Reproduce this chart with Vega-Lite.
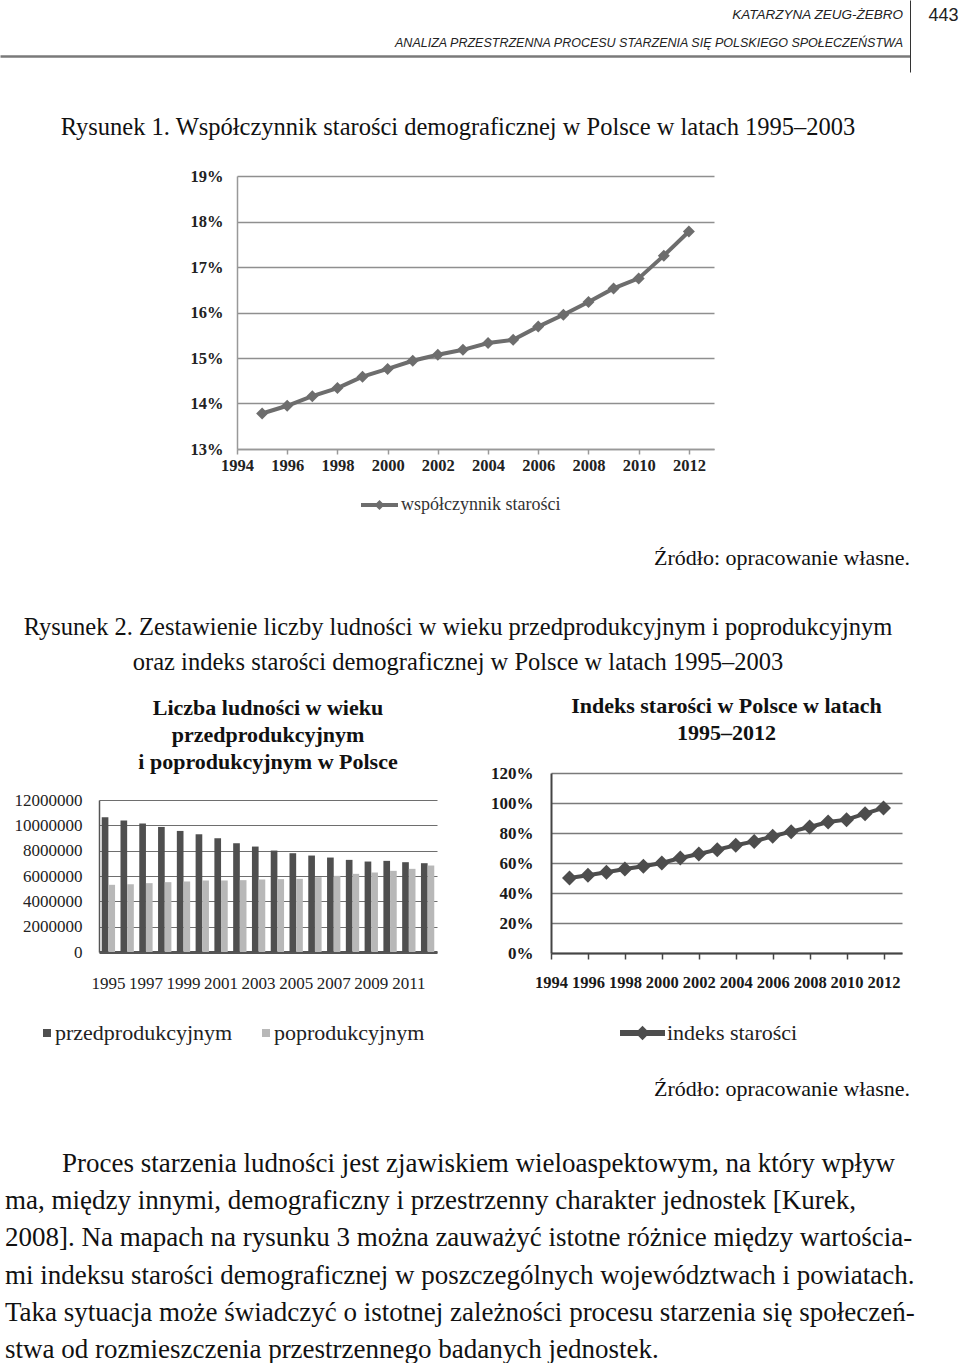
{
  "$schema": "https://vega.github.io/schema/vega-lite/v6.json",
  "padding": 0,
  "background": "white",
  "config": {
    "view": {"stroke": null},
    "font": "Liberation Serif",
    "axis": {"labelFont": "Liberation Serif", "labelColor": "#1a1a1a", "titleFont": "Liberation Serif"},
    "legend": {"labelFont": "Liberation Serif", "labelColor": "#222", "labelLimit": 400},
    "title": {"font": "Liberation Serif", "color": "#111"}
  },
  "spacing": 0,
  "bounds": "flush",
  "resolve": {"scale": {"color": "independent"}, "legend": {"color": "independent"}},
  "vconcat": [
    {
      "width": 910,
      "height": 72,
      "data": {"values": [
        {"i": "a", "t": "KATARZYNA ZEUG-ŻEBRO"},
        {"i": "b", "t": "ANALIZA PRZESTRZENNA PROCESU STARZENIA SIĘ POLSKIEGO SPOŁECZEŃSTWA"}
      ]},
      "encoding": {
        "x": {"datum": 1, "type": "quantitative", "scale": {"domain": [0, 1]},
          "axis": {"orient": "bottom", "offset": -16, "labels": false, "ticks": false, "tickSize": 0, "grid": false, "domain": true, "domainColor": "#7a7a7a", "domainWidth": 2.5, "title": null}},
        "y": {"field": "i", "type": "ordinal", "scale": {"type": "point", "domain": ["a", "b"], "padding": 0.7857, "align": 0.341},
          "axis": {"orient": "right", "labels": false, "ticks": false, "tickSize": 0, "grid": false, "domain": true, "domainColor": "#333", "domainWidth": 1,
            "title": "443", "titleAngle": 0, "titleAnchor": "start", "titleAlign": "left", "titleBaseline": "top", "titlePadding": 18, "titleY": 6,
            "titleFont": "Liberation Sans", "titleFontSize": 18, "titleFontWeight": "normal", "titleColor": "#222"}},
        "text": {"field": "t"}
      },
      "layer": [
        {"transform": [{"filter": "datum.i === 'a'"}],
         "mark": {"type": "text", "align": "right", "dx": -7, "font": "Liberation Sans", "fontSize": 13.5, "fontStyle": "italic", "color": "#222"}},
        {"transform": [{"filter": "datum.i === 'b'"}],
         "mark": {"type": "text", "align": "right", "dx": -7, "font": "Liberation Sans", "fontSize": 12.5, "fontStyle": "italic", "color": "#222"}}
      ]
    },
    {
      "width": 916,
      "height": 104,
      "data": {"values": [{"i": 0, "t": "Rysunek 1. Współczynnik starości demograficznej w Polsce w latach 1995–2003"}]},
      "mark": {"type": "text", "font": "Liberation Serif", "fontSize": 24.5, "color": "#111"},
      "encoding": {
        "y": {"field": "i", "type": "ordinal", "scale": {"type": "point", "align": 0.538}, "axis": null},
        "text": {"field": "t"}
      }
    },
    {
      "hconcat": [
        {"width": 237, "height": 1, "data": {"values": []}, "mark": "point"},
        {
          "width": 477,
          "height": 273,
          "data": {"values": [
            {"year": 1995, "value": 0.1378}, {"year": 1996, "value": 0.1395}, {"year": 1997, "value": 0.1416},
            {"year": 1998, "value": 0.1434}, {"year": 1999, "value": 0.1459}, {"year": 2000, "value": 0.1476},
            {"year": 2001, "value": 0.1494}, {"year": 2002, "value": 0.1507}, {"year": 2003, "value": 0.1518},
            {"year": 2004, "value": 0.1533}, {"year": 2005, "value": 0.1540}, {"year": 2006, "value": 0.1569},
            {"year": 2007, "value": 0.1595}, {"year": 2008, "value": 0.1623}, {"year": 2009, "value": 0.1653},
            {"year": 2010, "value": 0.1675}, {"year": 2011, "value": 0.1725}, {"year": 2012, "value": 0.1778}
          ]},
          "encoding": {
            "x": {"field": "year", "type": "quantitative", "scale": {"domain": [1994, 2013], "nice": false},
              "axis": {"values": [1994, 1996, 1998, 2000, 2002, 2004, 2006, 2008, 2010, 2012], "format": "d", "labelFlush": false, "labelOverlap": false,
                "labelFontWeight": "bold", "labelFontSize": 16.5, "labelColor": "#222", "ticks": true, "tickSize": 5, "tickColor": "#999", "tickWidth": 1.5,
                "domainColor": "#999", "domainWidth": 1.5, "grid": false, "labelPadding": 3, "title": null}},
            "y": {"field": "value", "type": "quantitative", "scale": {"domain": [0.13, 0.19], "nice": false, "zero": false},
              "axis": {"values": [0.13, 0.14, 0.15, 0.16, 0.17, 0.18, 0.19], "format": ".0%",
                "grid": true, "gridColor": "#8f8f8f", "gridWidth": 1.5, "ticks": false, "tickSize": 0, "labelPadding": 14,
                "domain": true, "domainColor": "#999", "domainWidth": 1.5, "labelFontWeight": "bold", "labelFontSize": 16.5, "labelColor": "#222", "title": null}}
          },
          "layer": [
            {"mark": {"type": "line", "color": "#6d6d6d", "strokeWidth": 4}},
            {"mark": {"type": "point", "shape": "diamond", "filled": true, "size": 144, "opacity": 1},
             "encoding": {"color": {"datum": "współczynnik starości", "scale": {"range": ["#6d6d6d"]},
               "legend": {"orient": "none", "legendX": 361, "legendY": 310.5, "title": null,
                 "symbolType": "M-1,-0.11L1,-0.11L1,0.11L-1,0.11Z M0,-0.27L0.27,0L0,0.27L-0.27,0Z",
                 "symbolSize": 1369, "symbolStrokeWidth": 0, "labelFontSize": 18, "labelColor": "#333", "labelOffset": 3}}}}
          ]
        }
      ],
      "spacing": 0,
      "bounds": "flush"
    },
    {"width": 1, "height": 312, "data": {"values": []}, "mark": "point"},
    {
      "width": 916,
      "height": 175,
      "data": {"values": [
        {"i": 0, "k": "src", "t": "Źródło: opracowanie własne."},
        {"i": 2, "k": "cap", "t": "Rysunek 2. Zestawienie liczby ludności w wieku przedprodukcyjnym i poprodukcyjnym"},
        {"i": 3, "k": "cap", "t": "oraz indeks starości demograficznej w Polsce w latach 1995–2003"}
      ]},
      "encoding": {
        "y": {"field": "i", "type": "ordinal", "scale": {"type": "point", "domain": [0, 1, 2, 3], "padding": 1, "align": 1}, "axis": null},
        "text": {"field": "t"}
      },
      "layer": [
        {"transform": [{"filter": "datum.k === 'src'"}],
         "mark": {"type": "text", "align": "right", "dx": -6, "font": "Liberation Serif", "fontSize": 22, "color": "#111"},
         "encoding": {"x": {"datum": 1, "type": "quantitative", "scale": {"domain": [0, 1]}, "axis": null}}},
        {"transform": [{"filter": "datum.k === 'cap'"}],
         "mark": {"type": "text", "align": "center", "font": "Liberation Serif", "fontSize": 24.5, "color": "#111"}}
      ]
    },
    {
      "hconcat": [
        {"width": 99, "height": 1, "data": {"values": []}, "mark": "point"},
        {
          "vconcat": [
            {"width": 1, "height": 137, "data": {"values": []}, "mark": "point"},
            {
              "width": 338,
              "height": 152,
              "title": {"text": ["Liczba ludności w wieku", "przedprodukcyjnym", "i poprodukcyjnym w Polsce"],
                "fontSize": 22, "fontWeight": "bold", "lineHeight": 27, "offset": 17, "anchor": "middle", "color": "#111"},
              "data": {"values": [
                {"year": 1995, "series": "przedprodukcyjnym", "value": 10635000}, {"year": 1995, "series": "poprodukcyjnym", "value": 5304000},
                {"year": 1996, "series": "przedprodukcyjnym", "value": 10372000}, {"year": 1996, "series": "poprodukcyjnym", "value": 5357000},
                {"year": 1997, "series": "przedprodukcyjnym", "value": 10136000}, {"year": 1997, "series": "poprodukcyjnym", "value": 5435000},
                {"year": 1998, "series": "przedprodukcyjnym", "value": 9873000}, {"year": 1998, "series": "poprodukcyjnym", "value": 5514000},
                {"year": 1999, "series": "przedprodukcyjnym", "value": 9558000}, {"year": 1999, "series": "poprodukcyjnym", "value": 5567000},
                {"year": 2000, "series": "przedprodukcyjnym", "value": 9295000}, {"year": 2000, "series": "poprodukcyjnym", "value": 5646000},
                {"year": 2001, "series": "przedprodukcyjnym", "value": 8980000}, {"year": 2001, "series": "poprodukcyjnym", "value": 5646000},
                {"year": 2002, "series": "przedprodukcyjnym", "value": 8586000}, {"year": 2002, "series": "poprodukcyjnym", "value": 5672000},
                {"year": 2003, "series": "przedprodukcyjnym", "value": 8324000}, {"year": 2003, "series": "poprodukcyjnym", "value": 5724000},
                {"year": 2004, "series": "przedprodukcyjnym", "value": 8009000}, {"year": 2004, "series": "poprodukcyjnym", "value": 5751000},
                {"year": 2005, "series": "przedprodukcyjnym", "value": 7799000}, {"year": 2005, "series": "poprodukcyjnym", "value": 5777000},
                {"year": 2006, "series": "przedprodukcyjnym", "value": 7615000}, {"year": 2006, "series": "poprodukcyjnym", "value": 5908000},
                {"year": 2007, "series": "przedprodukcyjnym", "value": 7457000}, {"year": 2007, "series": "poprodukcyjnym", "value": 6013000},
                {"year": 2008, "series": "przedprodukcyjnym", "value": 7273000}, {"year": 2008, "series": "poprodukcyjnym", "value": 6171000},
                {"year": 2009, "series": "przedprodukcyjnym", "value": 7142000}, {"year": 2009, "series": "poprodukcyjnym", "value": 6276000},
                {"year": 2010, "series": "przedprodukcyjnym", "value": 7195000}, {"year": 2010, "series": "poprodukcyjnym", "value": 6407000},
                {"year": 2011, "series": "przedprodukcyjnym", "value": 7090000}, {"year": 2011, "series": "poprodukcyjnym", "value": 6565000},
                {"year": 2012, "series": "przedprodukcyjnym", "value": 7011000}, {"year": 2012, "series": "poprodukcyjnym", "value": 6827000}
              ]},
              "mark": {"type": "bar"},
              "encoding": {
                "x": {"field": "year", "type": "ordinal", "scale": {"paddingInner": 0.29, "paddingOuter": 0.145},
                  "axis": {"values": [1995, 1997, 1999, 2001, 2003, 2005, 2007, 2009, 2011], "labelAngle": 0, "ticks": false, "tickSize": 0, "labelOverlap": false,
                    "labelPadding": 23.5, "domain": true, "domainColor": "#555", "domainWidth": 3, "labelFontSize": 17, "labelColor": "#222", "title": null}},
                "xOffset": {"field": "series", "type": "nominal", "sort": ["przedprodukcyjnym", "poprodukcyjnym"]},
                "y": {"field": "value", "type": "quantitative", "scale": {"domain": [0, 12000000], "nice": false},
                  "axis": {"values": [0, 2000000, 4000000, 6000000, 8000000, 10000000, 12000000], "format": "d",
                    "grid": true, "gridColor": "#6e6e6e", "gridWidth": 1.2, "ticks": false, "tickSize": 0, "labelPadding": 17,
                    "domain": true, "domainColor": "#555", "domainWidth": 1.5, "labelFontSize": 17, "labelColor": "#222", "title": null}},
                "color": {"field": "series", "type": "nominal",
                  "scale": {"domain": ["przedprodukcyjnym", "poprodukcyjnym"], "range": ["#4f4f4f", "#b8b8b8"]},
                  "legend": {"orient": "none", "legendX": -63, "legendY": 359, "direction": "horizontal", "title": null,
                    "symbolType": "square", "symbolSize": 64, "symbolStrokeWidth": 0, "columnPadding": 22, "labelOffset": -3,
                    "labelFontSize": 22, "labelColor": "#222", "labelLimit": 400}}
              }
            }
          ],
          "spacing": 0,
          "bounds": "flush"
        },
        {"width": 452, "height": 1, "data": {"values": []}, "mark": "point"},
        {
          "vconcat": [
            {"width": 1, "height": 110, "data": {"values": []}, "mark": "point"},
            {
              "width": 351,
              "height": 180,
              "title": {"text": ["Indeks starości w Polsce w latach", "1995–2012"],
                "fontSize": 22, "fontWeight": "bold", "lineHeight": 27, "offset": 19, "anchor": "middle", "color": "#111"},
              "data": {"values": [
                {"year": 1995, "value": 0.500}, {"year": 1996, "value": 0.518}, {"year": 1997, "value": 0.538},
                {"year": 1998, "value": 0.560}, {"year": 1999, "value": 0.578}, {"year": 2000, "value": 0.600},
                {"year": 2001, "value": 0.633}, {"year": 2002, "value": 0.660}, {"year": 2003, "value": 0.689},
                {"year": 2004, "value": 0.718}, {"year": 2005, "value": 0.744}, {"year": 2006, "value": 0.778},
                {"year": 2007, "value": 0.809}, {"year": 2008, "value": 0.840}, {"year": 2009, "value": 0.873},
                {"year": 2010, "value": 0.889}, {"year": 2011, "value": 0.929}, {"year": 2012, "value": 0.967}
              ]},
              "encoding": {
                "x": {"field": "year", "type": "quantitative", "scale": {"domain": [1994, 2013], "nice": false},
                  "axis": {"values": [1994, 1996, 1998, 2000, 2002, 2004, 2006, 2008, 2010, 2012], "format": "d", "labelFlush": false, "labelOverlap": false,
                    "labelFontWeight": "bold", "labelFontSize": 16.5, "labelColor": "#1a1a1a", "ticks": true, "tickSize": 6, "tickColor": "#444", "tickWidth": 1.5,
                    "domainColor": "#444", "domainWidth": 2, "grid": false, "labelPadding": 15.5, "title": null}},
                "y": {"field": "value", "type": "quantitative", "scale": {"domain": [0, 1.2], "nice": false},
                  "axis": {"values": [0, 0.2, 0.4, 0.6, 0.8, 1, 1.2], "format": ".0%",
                    "grid": true, "gridColor": "#7a7a7a", "gridWidth": 1.5, "ticks": false, "tickSize": 0, "labelPadding": 18,
                    "domain": true, "domainColor": "#444", "domainWidth": 2, "labelFontWeight": "bold", "labelFontSize": 17, "labelColor": "#1a1a1a", "title": null}}
              },
              "layer": [
                {"mark": {"type": "line", "color": "#4d4d4d", "strokeWidth": 4}},
                {"mark": {"type": "point", "shape": "diamond", "filled": true, "size": 225, "opacity": 1},
                 "encoding": {"color": {"datum": "indeks starości", "scale": {"range": ["#4d4d4d"]},
                   "legend": {"orient": "none", "legendX": 69, "legendY": 347.5, "title": null,
                     "symbolType": "M-1,-0.13L1,-0.13L1,0.13L-1,0.13Z M0,-0.32L0.32,0L0,0.32L-0.32,0Z",
                     "symbolSize": 2025, "symbolStrokeWidth": 0, "labelFontSize": 22, "labelColor": "#222", "labelOffset": 2}}}}
              ]
            }
          ],
          "spacing": 0,
          "bounds": "flush"
        }
      ],
      "spacing": 0,
      "bounds": "flush",
      "resolve": {"scale": {"color": "independent"}, "legend": {"color": "independent"}}
    },
    {"width": 1, "height": 352, "data": {"values": []}, "mark": "point"},
    {
      "width": 916,
      "height": 335,
      "data": {"values": [
        {"i": 0, "k": "src", "t": "Źródło: opracowanie własne."},
        {"i": 2, "k": "p1", "t": "Proces starzenia ludności jest zjawiskiem wieloaspektowym, na który wpływ"},
        {"i": 3, "k": "p", "t": "ma, między innymi, demograficzny i przestrzenny charakter jednostek [Kurek,"},
        {"i": 4, "k": "p", "t": "2008]. Na mapach na rysunku 3 można zauważyć istotne różnice między wartościa-"},
        {"i": 5, "k": "p", "t": "mi indeksu starości demograficznej w poszczególnych województwach i powiatach."},
        {"i": 6, "k": "p", "t": "Taka sytuacja może świadczyć o istotnej zależności procesu starzenia się społeczeń-"},
        {"i": 7, "k": "p", "t": "stwa od rozmieszczenia przestrzennego badanych jednostek."}
      ]},
      "encoding": {
        "y": {"field": "i", "type": "ordinal", "scale": {"type": "point", "domain": [0, 1, 2, 3, 4, 5, 6, 7], "padding": 1, "align": 1}, "axis": null},
        "x": {"datum": 1, "type": "quantitative", "scale": {"domain": [0, 1]}, "axis": null},
        "text": {"field": "t"}
      },
      "layer": [
        {"transform": [{"filter": "datum.k === 'src'"}],
         "mark": {"type": "text", "align": "right", "dx": -6, "font": "Liberation Serif", "fontSize": 22, "color": "#111"}},
        {"transform": [{"filter": "datum.k === 'p1'"}],
         "mark": {"type": "text", "align": "left", "dx": 62, "font": "Liberation Serif", "fontSize": 27, "color": "#111"},
         "encoding": {"x": {"datum": 0, "type": "quantitative", "scale": {"domain": [0, 1]}, "axis": null}}},
        {"transform": [{"filter": "datum.k === 'p'"}],
         "mark": {"type": "text", "align": "left", "dx": 5, "font": "Liberation Serif", "fontSize": 27, "color": "#111"},
         "encoding": {"x": {"datum": 0, "type": "quantitative", "scale": {"domain": [0, 1]}, "axis": null}}}
      ]
    }
  ]
}
